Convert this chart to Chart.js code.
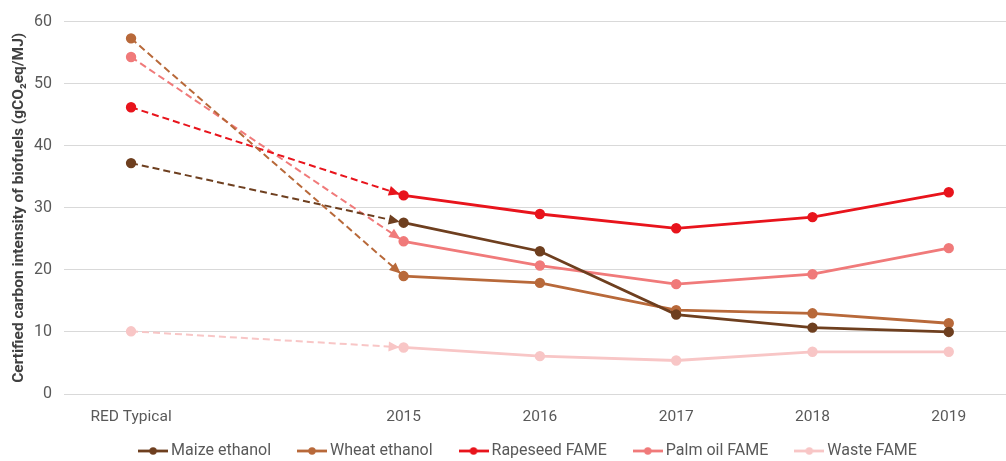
<!DOCTYPE html>
<html><head><meta charset="utf-8">
<script src="https://cdn.jsdelivr.net/npm/chart.js@4.4.1/dist/chart.umd.min.js"></script>
<style>html,body{margin:0;padding:0;background:#fff}#wrap{width:1006px;height:461px}</style>
</head><body><div id="wrap"><canvas id="c" width="1006" height="461"></canvas></div>
<script>
const categories = ["RED Typical", "", "2015", "2016", "2017", "2018", "2019"];
const maize    = [37.2, null, 27.6, 23.0, 12.8, 10.7, 10.0];
const wheat    = [57.3, null, 19.0, 17.9, 13.5, 13.0, 11.4];
const rapeseed = [46.2, null, 32.0, 29.0, 26.7, 28.5, 32.5];
const palm     = [54.3, null, 24.6, 20.7, 17.7, 19.3, 23.5];
const waste    = [10.1, null, 7.5, 6.1, 5.4, 6.8, 6.8];
const seriesNames = ["Maize ethanol", "Wheat ethanol", "Rapeseed FAME", "Palm oil FAME", "Waste FAME"];
const yTicks = [0, 10, 20, 30, 40, 50, 60];

const colors = ["#6e3f1f", "#b8693a", "#e8141c", "#f07a7a", "#f8c6c6"];
const seriesVals = [maize, wheat, rapeseed, palm, waste];

function toPts(arr){ const r=[]; arr.forEach((v,i)=>{ if(v!==null) r.push({x:i,y:v}); }); return r; }

function legendImg(color){
  const c=document.createElement('canvas'); c.width=30; c.height=10;
  const g=c.getContext('2d');
  g.strokeStyle=color; g.lineWidth=2.8; g.beginPath(); g.moveTo(0,5); g.lineTo(30,5); g.stroke();
  g.fillStyle=color; g.beginPath(); g.arc(15,5,3.7,0,Math.PI*2); g.fill();
  return c;
}
const legendImgs = colors.map(legendImg);

const arrowPlugin = {
  id:'arrows',
  afterDatasetsDraw(chart){
    const ctx=chart.ctx;
    chart.data.datasets.forEach((ds,i)=>{
      const meta=chart.getDatasetMeta(i);
      const p0=meta.data[0], p1=meta.data[1];
      const dx=p1.x-p0.x, dy=p1.y-p0.y, L=Math.hypot(dx,dy);
      const ux=dx/L, uy=dy/L;
      const tipX=p1.x-ux*4, tipY=p1.y-uy*4;
      const len=11, hw=5;
      const bx=tipX-ux*len, by=tipY-uy*len;
      ctx.save();
      ctx.fillStyle=ds.borderColor;
      ctx.beginPath();
      ctx.moveTo(tipX,tipY);
      ctx.lineTo(bx-uy*hw, by+ux*hw);
      ctx.lineTo(bx+uy*hw, by-ux*hw);
      ctx.closePath(); ctx.fill();
      ctx.restore();
    });
  }
};

const legendFit = {
  id:'legendFit',
  beforeInit(chart){
    const orig=chart.legend.fit;
    chart.legend.fit=function(){ orig.bind(chart.legend)(); this.height=36; };
  },
  afterLayout(chart){
    const lg=chart.legend;
    lg.top-=13;
    lg.left+=27; lg.right+=27;
  }
};

new Chart(document.getElementById('c'), {
  type:'line',
  data:{
    datasets: seriesVals.map((vals,i)=>({
      label: seriesNames[i],
      data: toPts(vals),
      borderColor: colors[i],
      backgroundColor: colors[i],
      pointBackgroundColor: colors[i],
      pointBorderColor: colors[i],
      pointRadius: 3.8,
      pointHoverRadius: 3.8,
      borderWidth: 2.8,
      tension: 0,
      segment:{
        borderDash: ctx => ctx.p0DataIndex===0 ? [7,4] : undefined,
        borderWidth: ctx => ctx.p0DataIndex===0 ? 2 : 2.8
      }
    }))
  },
  options:{
    responsive:false,
    animation:false,
    layout:{autoPadding:false, padding:{top:11,right:0,left:0,bottom:0}},
    plugins:{
      tooltip:{enabled:false},
      legend:{
        position:'bottom',
        labels:{
          usePointStyle:true,
          pointStyleWidth:20,
          padding:31,
          color:'#595959',
          font:{family:'Roboto', size:16},
          generateLabels(chart){
            return chart.data.datasets.map((ds,i)=>({
              text: ds.label, pointStyle: legendImgs[i], fillStyle: colors[i],
              strokeStyle: colors[i], lineWidth:0, hidden:false, datasetIndex:i, fontColor:'#595959'
            }));
          }
        }
      }
    },
    scales:{
      x:{
        type:'linear', min:-0.492, max:6.42,
        grid:{display:false},
        border:{display:false},
        afterBuildTicks(s){ s.ticks = categories.map((c,i)=>({value:i})); },
        afterFit(s){ s.height=31; },
        ticks:{ autoSkip:false, maxRotation:0, color:'#595959', font:{family:'Roboto', size:15.5},
          callback:(v)=>categories[v] ?? '' , padding:6},
      },
      y:{
        min:0, max:60,
        afterBuildTicks(s){ s.ticks = yTicks.map(v=>({value:v})); },
        afterFit(s){ s.width=64; },
        grid:{color:'#d9d9d9', lineWidth:1, drawTicks:false},
        border:{display:false},
        ticks:{ color:'#595959', font:{family:'Roboto', size:16}, padding:12 },
        title:{ display:true, text:'Certified carbon intensity of biofuels (gCO₂eq/MJ)', color:'#404040',
          font:{family:'Roboto', size:15.5, weight:'bold'}, padding:{top:10,bottom:0} }
      }
    }
  },
  plugins:[arrowPlugin, legendFit]
});
</script></body></html>
